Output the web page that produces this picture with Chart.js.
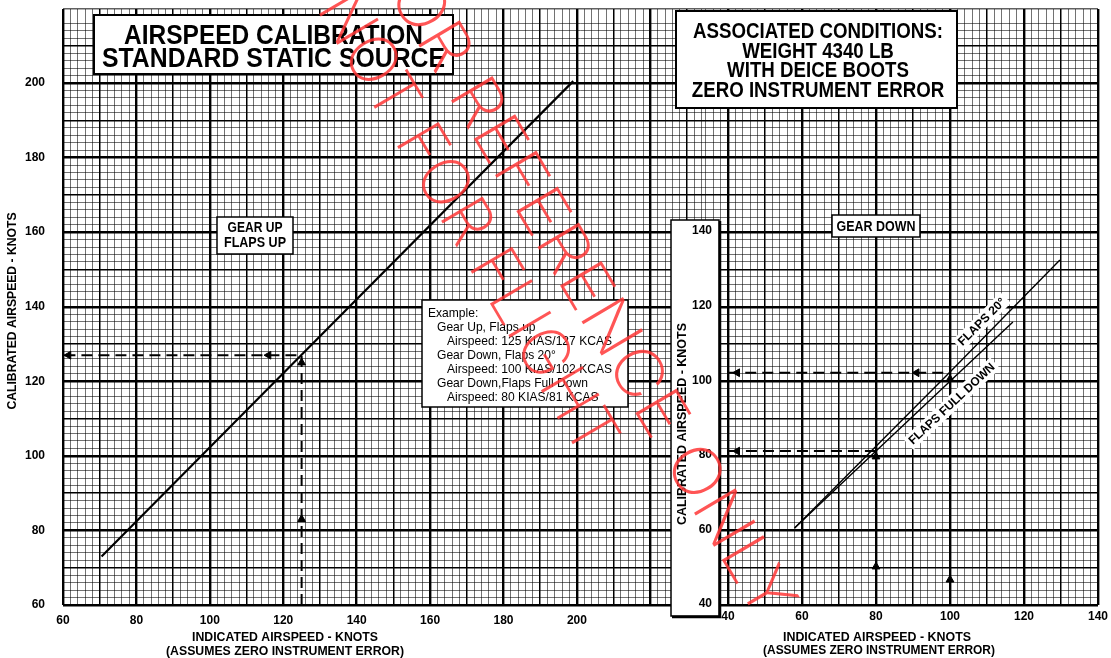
<!DOCTYPE html>
<html>
<head>
<meta charset="utf-8">
<script src="https://cdn.jsdelivr.net/npm/chart.js@4.4.1/dist/chart.umd.min.js"></script>
<style>
  html, body { margin: 0; padding: 0; background: #fff; }
  #wrap { width: 1111px; height: 658px; }
</style>
</head>
<body>
<div id="wrap"><canvas id="chart" width="1111" height="658"></canvas></div>
<script>
// ── Data ──

const LEFT_X_TICKS = [60, 80, 100, 120, 140, 160, 180, 200];
const LEFT_Y_TICKS = [60, 80, 100, 120, 140, 160, 180, 200];
const RIGHT_X_TICKS = [40, 60, 80, 100, 120, 140];
const RIGHT_Y_TICKS = [40, 60, 80, 100, 120, 140];

// gear up, flaps up (left panel): KIAS -> KCAS
const UP_IAS = [70.5, 125, 199];
const UP_CAS = [73, 127.1, 200.5];

// gear down (right panel)
const F20_IAS = [58, 100, 129.7];
const F20_CAS = [60.4, 102.2, 132.2];
const FULL_IAS = [58, 80, 117];
const FULL_CAS = [60.4, 81, 115.6];

// example read-off paths
const EX_UP_IAS = [125, 125, 60];
const EX_UP_CAS = [60, 127, 127];
const EX_F20_IAS = [100, 100, 40];
const EX_F20_CAS = [40, 102, 102];
const EX_FULL_IAS = [80, 80, 40];
const EX_FULL_CAS = [40, 81, 81];

// arrow heads on the example paths
const ARR_UP_L_IAS = [125, 125];
const ARR_UP_L_CAS = [83, 125];
const ARR_LEFT_L_IAS = [116, 61.5];
const ARR_LEFT_L_CAS = [127, 127];
const ARR_UP_R_IAS = [80, 80, 100, 100];
const ARR_UP_R_CAS = [50, 79.5, 46.5, 100.3];
const ARR_LEFT_R_IAS = [42.5, 42.5, 91];
const ARR_LEFT_R_CAS = [81, 102, 102];

const EXAMPLE_LINES = [
    "Example:",
    "Gear Up, Flaps up",
    "Airspeed: 125 KIAS/127 KCAS",
    "Gear Down, Flaps 20°",
    "Airspeed: 100 KIAS/102 KCAS",
    "Gear Down,Flaps Full Down",
    "Airspeed: 80 KIAS/81 KCAS",
];
const CONDITION_LINES = ["ASSOCIATED CONDITIONS:", "WEIGHT 4340 LB", "WITH DEICE BOOTS", "ZERO INSTRUMENT ERROR"];
const WATERMARK_LINES = ["FOR REFERENCE ONLY", "NOT FOR FLIGHT"];

const FONT = "'Liberation Sans', Arial, Helvetica, sans-serif";

// ── Helpers ──

function pts(xs, ys) {
    return xs.map((x, i) => ({ x: x, y: ys[i] }));
}

function isMult(v, m) {
    const r = Math.abs(v % m);
    return r < 1e-6 || Math.abs(r - m) < 1e-6;
}

function gridStyle(lo, hi, maxVal) {
    return {
        drawTicks: false,
        color: c => {
            const v = c.tick ? c.tick.value : null;
            if (v === null || v < lo || v > hi) return "rgba(0,0,0,0)";
            return isMult(v, 10) ? "#000" : "rgba(0,0,0,0.62)";
        },
        lineWidth: c => {
            const v = c.tick ? c.tick.value : 0;
            if (maxVal !== undefined && Math.abs(v - maxVal) < 1e-6) return 1.6;
            return isMult(v, 20) ? 2.4 : isMult(v, 10) ? 1.5 : 0.9;
        },
    };
}

function noPad(s) {
    s.paddingTop = 0;
    s.paddingBottom = 0;
    s.paddingLeft = 0;
    s.paddingRight = 0;
}

function drawText(ctx, str, x, y, opt) {
    const o = Object.assign({ size: 12, weight: "bold", align: "center", width: null, sx: null,
        angle: 0, color: "#000", base: "alphabetic" }, opt);
    ctx.save();
    ctx.font = o.weight + " " + o.size + "px " + FONT;
    let sx = 1;
    if (o.sx) sx = o.sx;
    else if (o.width) sx = o.width / ctx.measureText(str).width;
    ctx.translate(x, y);
    if (o.angle) ctx.rotate(o.angle * Math.PI / 180);
    ctx.scale(sx, 1);
    ctx.textAlign = o.align;
    ctx.textBaseline = o.base;
    ctx.fillStyle = o.color;
    ctx.fillText(str, 0, 0);
    ctx.restore();
}

function scaleFor(ctx, str, size, weight, width) {
    ctx.save();
    ctx.font = weight + " " + size + "px " + FONT;
    const w = ctx.measureText(str).width;
    ctx.restore();
    return width / w;
}

function whiteBox(ctx, x0, y0, x1, y1, lw) {
    ctx.save();
    ctx.fillStyle = "#fff";
    ctx.fillRect(x0, y0, x1 - x0, y1 - y0);
    ctx.strokeStyle = "#000";
    ctx.lineWidth = lw || 2;
    ctx.strokeRect(x0, y0, x1 - x0, y1 - y0);
    ctx.restore();
}

function tagAlong(ctx, str, x, y, angle, width) {
    ctx.save();
    ctx.translate(x, y);
    ctx.rotate(angle * Math.PI / 180);
    ctx.font = "bold 12px " + FONT;
    const sx = width / ctx.measureText(str).width;
    ctx.fillStyle = "#fff";
    ctx.fillRect(-width / 2 - 3, -8, width + 6, 15);
    ctx.scale(sx, 1);
    ctx.fillStyle = "#000";
    ctx.textAlign = "center";
    ctx.textBaseline = "middle";
    ctx.fillText(str, 0, 0);
    ctx.restore();
}

// ── Overlay plugin: boxes, right-hand axis, labels, watermark ──

const overlay = {
    id: "overlay",
    beforeDatasetsDraw(chart) {
        const ctx = chart.ctx;
        const x2 = chart.scales.x2, y2 = chart.scales.y2;

        // title
        whiteBox(ctx, 94, 15, 453, 74, 2);
        drawText(ctx, "AIRSPEED CALIBRATION", 273.5, 44, { size: 27, width: 299 });
        drawText(ctx, "STANDARD STATIC SOURCE", 273.5, 67, { size: 27, width: 343 });

        // associated conditions
        whiteBox(ctx, 676, 11, 957, 108, 2);
        const csx = scaleFor(ctx, CONDITION_LINES[0], 22, "bold", 250);
        CONDITION_LINES.forEach((s, i) => drawText(ctx, s, 818, 38 + i * 19.5, { size: 22, sx: csx }));

        // panel tags
        whiteBox(ctx, 217, 217, 293, 254, 1.5);
        drawText(ctx, "GEAR UP", 255, 232, { size: 14, width: 55 });
        drawText(ctx, "FLAPS UP", 255, 247, { size: 14, width: 62 });
        whiteBox(ctx, 832, 215, 920, 237, 1.5);
        drawText(ctx, "GEAR DOWN", 876, 231, { size: 14, width: 79 });

        // example box
        whiteBox(ctx, 422, 300, 628, 407, 1.5);
        const esx = scaleFor(ctx, EXAMPLE_LINES[4], 13, "normal", 165);
        const indent = [428, 437, 447, 437, 447, 437, 447];
        EXAMPLE_LINES.forEach((s, i) => drawText(ctx, s, indent[i], 317 + i * 14,
            { size: 13, weight: "normal", align: "left", sx: esx }));

        // right-hand y axis box
        ctx.save();
        ctx.fillStyle = "#fff";
        ctx.fillRect(671, 220, 48, 396);
        ctx.strokeStyle = "#000";
        ctx.lineWidth = 1.5;
        ctx.strokeRect(671, 220, 48, 396);
        ctx.lineWidth = 2.5;
        ctx.beginPath();
        ctx.moveTo(720, 221);
        ctx.lineTo(720, 617);
        ctx.lineTo(672, 617);
        ctx.stroke();
        ctx.restore();
        RIGHT_Y_TICKS.forEach(v => drawText(ctx, String(v), 712, y2.getPixelForValue(v),
            { size: 12, align: "right", base: "middle" }));
        drawText(ctx, "CALIBRATED AIRSPEED - KNOTS", 683, 424,
            { size: 12, angle: -90, width: 202, base: "middle" });

        // right-hand x axis labels
        RIGHT_X_TICKS.forEach(v => drawText(ctx, String(v), x2.getPixelForValue(v), 617,
            { size: 12, base: "middle" }));

        // axis titles
        drawText(ctx, "CALIBRATED AIRSPEED - KNOTS", 13, 311, { size: 12, angle: -90, width: 197, base: "middle" });
        drawText(ctx, "INDICATED AIRSPEED - KNOTS", 285, 641, { size: 12, width: 186 });
        drawText(ctx, "(ASSUMES ZERO INSTRUMENT ERROR)", 285, 655, { size: 12, width: 238 });
        drawText(ctx, "INDICATED AIRSPEED - KNOTS", 877, 641, { size: 12, width: 188 });
        drawText(ctx, "(ASSUMES ZERO INSTRUMENT ERROR)", 879, 654, { size: 12, width: 232 });
    },
    afterDatasetsDraw(chart) {
        const ctx = chart.ctx;
        tagAlong(ctx, "FLAPS 20°", 982, 322, -45, 62);
        tagAlong(ctx, "FLAPS FULL DOWN", 952, 404, -43, 113);
    },
    afterDraw(chart) {
        // diagonal stamp across the sheet
        const ctx = chart.ctx;
        const place = [[580, 280, 775], [466, 224, 525]];
        ctx.save();
        ctx.fillStyle = "rgba(255,55,55,0.85)";
        ctx.textAlign = "center";
        ctx.textBaseline = "middle";
        ctx.font = "200 66px Inter, " + FONT;
        WATERMARK_LINES.forEach((s, i) => {
            const p = place[i];
            ctx.save();
            ctx.translate(p[0], p[1]);
            ctx.rotate(59.5 * Math.PI / 180);
            ctx.scale(p[2] / ctx.measureText(s).width, 1);
            ctx.fillText(s, 0, 0);
            ctx.restore();
        });
        ctx.restore();
    },
};

// ── Chart ──

function lineSet(xs, ys, xId, yId, width, dash) {
    return {
        type: "line",
        data: pts(xs, ys),
        xAxisID: xId,
        yAxisID: yId,
        borderColor: "#000",
        borderWidth: width,
        borderDash: dash || [],
        pointRadius: 0,
        fill: false,
        tension: 0,
    };
}

function arrowSet(xs, ys, xId, yId, rot) {
    return {
        type: "scatter",
        data: pts(xs, ys),
        xAxisID: xId,
        yAxisID: yId,
        pointStyle: "triangle",
        rotation: rot,
        pointRadius: 4.5,
        backgroundColor: "#000",
        borderColor: "#000",
        borderWidth: 1,
    };
}

const tickFont = { family: FONT, size: 12, weight: "bold" };

new Chart(document.getElementById("chart"), {
    type: "scatter",
    data: {
        datasets: [
            lineSet(UP_IAS, UP_CAS, "x", "y", 2.2),
            lineSet(F20_IAS, F20_CAS, "x2", "y2", 1.4),
            lineSet(FULL_IAS, FULL_CAS, "x2", "y2", 1.4),
            lineSet(EX_UP_IAS, EX_UP_CAS, "x", "y", 2, [11, 6]),
            lineSet(EX_F20_IAS, EX_F20_CAS, "x2", "y2", 2, [11, 6]),
            lineSet(EX_FULL_IAS, EX_FULL_CAS, "x2", "y2", 2, [11, 6]),
            arrowSet(ARR_UP_L_IAS, ARR_UP_L_CAS, "x", "y", 0),
            arrowSet(ARR_LEFT_L_IAS, ARR_LEFT_L_CAS, "x", "y", -90),
            arrowSet(ARR_UP_R_IAS, ARR_UP_R_CAS, "x2", "y2", 0),
            arrowSet(ARR_LEFT_R_IAS, ARR_LEFT_R_CAS, "x2", "y2", -90),
        ],
    },
    options: {
        responsive: false,
        animation: false,
        devicePixelRatio: 1,
        layout: { padding: { top: 9, right: 13, left: 0, bottom: 0 } },
        plugins: { legend: { display: false }, tooltip: { enabled: false } },
        scales: {
            x: {
                type: "linear", position: "bottom", min: 60, max: 341.94,
                ticks: {
                    stepSize: 2, autoSkip: false, maxRotation: 0, padding: 8,
                    font: tickFont, color: "#000",
                    callback: v => LEFT_X_TICKS.includes(v) ? String(v) : "",
                },
                grid: gridStyle(60, 234),
                border: { display: false },
                afterFit: s => { s.height = 53; noPad(s); },
            },
            y: {
                type: "linear", position: "left", min: 60, max: 219.85,
                ticks: {
                    stepSize: 2, autoSkip: false, padding: 18,
                    font: tickFont, color: "#000",
                    callback: v => LEFT_Y_TICKS.includes(v) ? String(v) : "",
                },
                grid: gridStyle(60, 219.85, 219.85),
                border: { display: false },
                afterFit: s => { s.width = 63; noPad(s); },
            },
            x2: {
                type: "linear", position: "bottom", min: -139.73, max: 140,
                ticks: { display: false, stepSize: 2, autoSkip: false, maxRotation: 0 },
                grid: gridStyle(34, 140),
                border: { display: false },
                afterFit: s => { s.height = 0; noPad(s); },
            },
            y2: {
                type: "linear", position: "right", min: 39.73, max: 199.52,
                display: false,
            },
        },
    },
    plugins: [overlay],
});
</script>
</body>
</html>
